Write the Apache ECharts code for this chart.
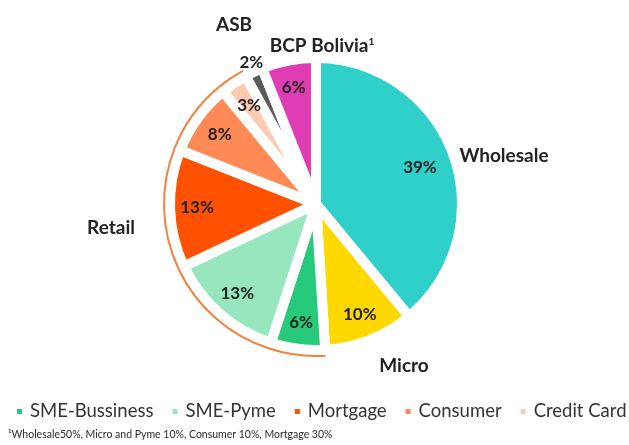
<!DOCTYPE html>
<html><head><meta charset="utf-8">
<script src="https://cdn.jsdelivr.net/npm/echarts@6/dist/echarts.min.js"></script>
<style>html,body{margin:0;padding:0;background:#fff}#c{width:629px;height:445px}</style>
</head><body><div id="c"></div>
<script>
const categories = ['Wholesale','Micro','SME-Bussiness','SME-Pyme','Mortgage','Consumer','Credit Card','ASB','BCP Bolivia'];
const shares = [39, 10, 6, 13, 13, 8, 3, 2, 6];
const sliceColors = ['#2ED0C9','#FFD800','#27C97A','#98E6C0','#FF5100','#FF8A56','#FFCAB0','#5A5A5A','#E03DB4'];
const retailGroup = ['SME-Bussiness','SME-Pyme','Mortgage','Consumer','Credit Card'];
const groupLabels = ['Wholesale','Micro','Retail','ASB','BCP Bolivia'];
const footnote = '¹Wholesale50%, Micro and Pyme 10%, Consumer 10%, Mortgage 30%';

const FONT = 'Lato';
const C = [316, 204];
const chart = echarts.init(document.getElementById('c'), null, {renderer: 'canvas'});

const mainData = categories.map((n, i) => ({name: n, value: shares[i], itemStyle: {color: sliceColors[i]}}));
const labelData = categories.map((n, i) => {
  const d = {name: 'lbl-' + n, value: shares[i], itemStyle: {color: 'rgba(0,0,0,0)'}};
  if (n === 'ASB') d.label = {offset: [-14, -34]};
  if (n === 'Wholesale') d.label = {offset: [-8, 4]};
  return d;
});
const arcData = categories.map((n, i) => ({name: 'arc-' + n, value: shares[i],
  itemStyle: {color: retailGroup.includes(n) ? '#F4813F' : 'rgba(0,0,0,0)'}}));

const groupPos = {Wholesale: [504, 156], Micro: [404, 366], Retail: [111, 228], ASB: [234, 25], 'BCP Bolivia': [322, 46]};
const graphics = groupLabels.map(g => ({
  type: 'text', x: groupPos[g][0], y: groupPos[g][1],
  style: g === 'BCP Bolivia' ? {
    text: '{a|BCP Bolivia}{s|1}', rich: {a: {font: 'bold 19px ' + FONT, fill: '#222'}, s: {font: 'bold 10px ' + FONT, fill: '#222', verticalAlign: 'top', padding: [0,0,9,0]}},
    align: 'center', verticalAlign: 'middle'
  } : {text: g, font: 'bold 19px ' + FONT, fill: '#222', align: 'center', verticalAlign: 'middle'}
}));
graphics.push({type: 'text', x: 8, y: 435, style: {text: footnote, font: '10.5px ' + FONT, fill: '#2a2a2a', verticalAlign: 'middle'}});

chart.setOption({
  animation: false,
  textStyle: {fontFamily: FONT},
  legend: {
    data: retailGroup, left: 15, top: 402, width: 614, padding: 0, icon: 'rect', itemWidth: 7, itemHeight: 7, itemGap: 17,
    textStyle: {fontSize: 18.5, color: '#333', fontFamily: FONT, padding: [0, 0, 0, 2]}, selectedMode: false
  },
  graphic: graphics,
  series: [
    {type: 'pie', center: C, radius: [0, 146], startAngle: 90, clockwise: true, silent: true,
     itemStyle: {borderColor: '#fff', borderWidth: 10}, label: {show: false}, labelLine: {show: false},
     data: mainData},
    {type: 'pie', center: C, radius: [76, 156], startAngle: 90, clockwise: true, silent: true,
     label: {show: true, position: 'inside', formatter: p => p.value + '%', fontFamily: FONT, fontSize: 17, fontWeight: 'bold', color: '#222'},
     labelLine: {show: false}, data: labelData},
    {type: 'pie', center: C, radius: [151, 153], startAngle: 90, clockwise: true, silent: true,
     label: {show: false}, labelLine: {show: false}, data: arcData}
  ]
});
</script></body></html>
